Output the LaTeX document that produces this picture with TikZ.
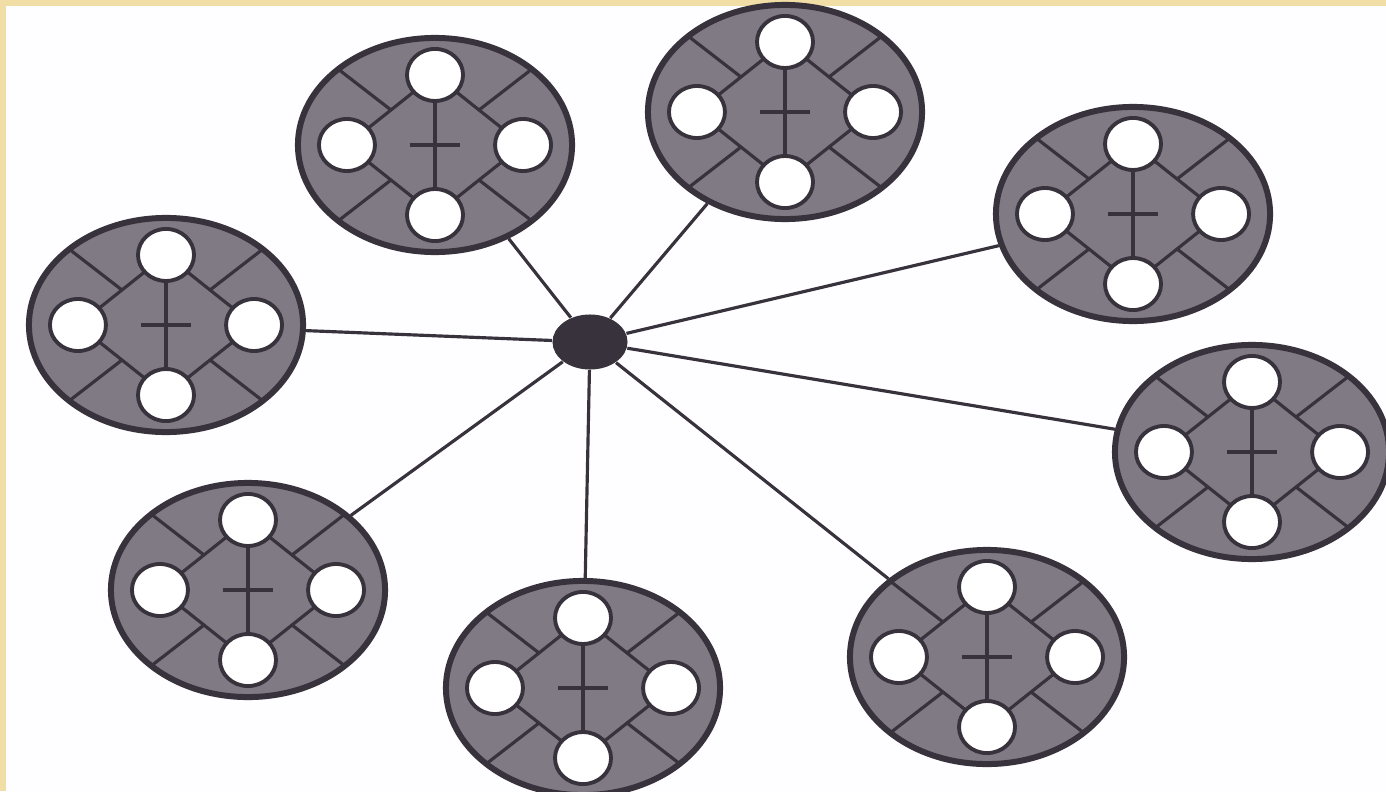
\documentclass[tikz,border=0pt]{standalone}
\usepackage{xcolor}
\usepackage{tikz}
\usetikzlibrary{
  shapes.geometric,
  calc
}
\definecolor{FrameYellow}{HTML}{F1DDA6}
\definecolor{PaperWhite}{HTML}{FEFDFF}
\definecolor{DiskFill}{HTML}{7F7A84}
\definecolor{DiskEdge}{HTML}{37323C}
\tikzset{
  disk/.style={
    ellipse,
    draw=DiskEdge,
    line width=1.7pt,
    fill=DiskFill,
    minimum width=2.74cm,
    minimum height=2.14cm,
    inner sep=0pt
  },
  hole/.style={
    ellipse,
    draw=DiskEdge,
    line width=1.1pt,
    fill=white,
    minimum width=0.56cm,
    minimum height=0.52cm,
    inner sep=0pt
  },
  hub/.style={
    ellipse,
    fill=DiskEdge,
    minimum width=0.75cm,
    minimum height=0.55cm,
    inner sep=0pt
  },
  spoke/.style={
    draw=DiskEdge,
    line width=0.9pt
  },
  rib/.style={
    draw=DiskEdge,
    line width=0.9pt
  }
}

\begin{document}
\begin{tikzpicture}[x=0.01cm, y=-0.01cm]

  \useasboundingbox (0,0) rectangle (1386,791);
  \fill[FrameYellow] (0,0) rectangle (1386,791);
  \fill[PaperWhite] (6,6) rectangle (1386,791);

  \node[hub] (hub) at (590,342) {};

  % the eight wheels
  \foreach \n/\x/\y in {
    1/435/145,
    2/785/112,
    3/1133/214,
    4/166/325,
    5/1252/452,
    6/248/590,
    7/583/688,
    8/987/657
  }{
    \node[disk] (d\n) at (\x,\y) {};

    \draw[rib]
    ($(d\n)+(0,0.7cm)$) --
    ($(d\n)+(0.88cm,0)$) --
    ($(d\n)+(0,-0.7cm)$) --
    ($(d\n)+(-0.88cm,0)$) --
    cycle;
    \draw[rib] ($(d\n)+(0,0.7cm)$) -- ($(d\n)+(0,-0.7cm)$);
    \draw[rib] ($(d\n)+(-0.25cm,0)$) -- ($(d\n)+(0.25cm,0)$);
    \draw[rib] ($(d\n)+(0.44cm,0.35cm)$) -- ($(d\n)+(0.97cm,0.76cm)$);
    \draw[rib] ($(d\n)+(-0.44cm,0.35cm)$) -- ($(d\n)+(-0.97cm,0.76cm)$);
    \draw[rib] ($(d\n)+(0.44cm,-0.35cm)$) -- ($(d\n)+(0.97cm,-0.76cm)$);
    \draw[rib] ($(d\n)+(-0.44cm,-0.35cm)$) -- ($(d\n)+(-0.97cm,-0.76cm)$);

    \node[hole] (d\n-t) at ($(d\n)+(0,0.7cm)$) {};
    \node[hole] (d\n-b) at ($(d\n)+(0,-0.7cm)$) {};
    \node[hole] (d\n-l) at ($(d\n)+(-0.88cm,0)$) {};
    \node[hole] (d\n-r) at ($(d\n)+(0.88cm,0)$) {};
  }

  % spokes from the hub
  \foreach \n in {1,...,8}{
    \draw[spoke] (hub) -- (d\n);
  }

\end{tikzpicture}
\end{document}
